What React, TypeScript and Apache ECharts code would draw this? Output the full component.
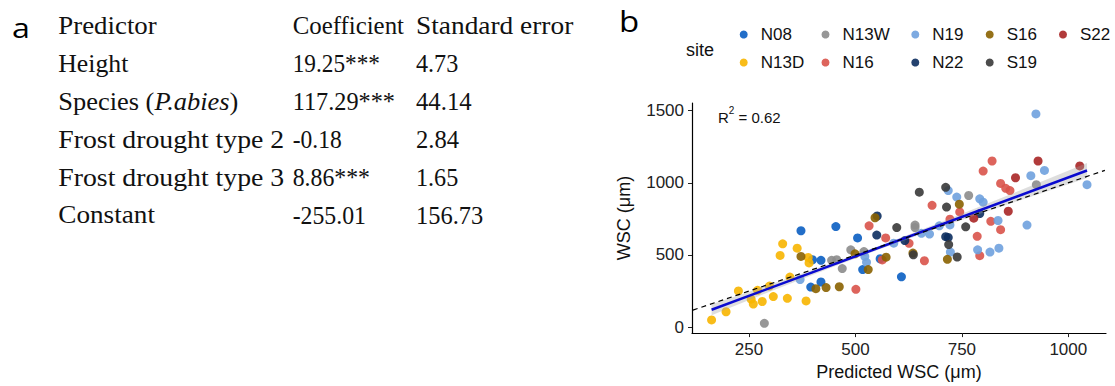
import React, { useEffect, useRef } from "react";
import * as echarts from "echarts";

// ---------- Table (panel a) ----------
const tableHeaders = ["Predictor", "Coefficient", "Standard error"];
const predictors = ["Height", "Species (P.abies)", "Frost drought type 2", "Frost drought type 3", "Constant"];
const coefficients = ["19.25***", "117.29***", "-0.18", "8.86***", "-255.01"];
const stdErrors = ["4.73", "44.14", "2.84", "1.65", "156.73"];

// ---------- Scatter (panel b) ----------
const sites = ["N08", "N13D", "N13W", "N16", "N19", "N22", "S16", "S19", "S22"];
const siteColors = ["#0a5ec2", "#f7b500", "#8c8c8c", "#d9534a", "#6fa1de", "#0c2e5f", "#8a6200", "#383838", "#a82626"];

const N08 = [[372, 668], [454, 697], [505, 618], [399, 467], [419, 463], [395, 278], [419, 313], [517, 399], [558, 474], [608, 349]];
const N13D = [[162, 50], [196, 107], [225, 251], [255, 194], [260, 160], [270, 255], [281, 178], [298, 285], [307, 212], [340, 200], [384, 182], [346, 347], [323, 497], [329, 577], [363, 547], [389, 483], [391, 445]];
const N13W = [[286, 27], [444, 463], [456, 467], [469, 406], [489, 536], [520, 524], [640, 707], [640, 690], [766, 912], [925, 987]];
const N16 = [[501, 262], [532, 702], [571, 618], [563, 466], [626, 581], [662, 460], [680, 844], [745, 798], [722, 748], [786, 629], [792, 495], [818, 733], [841, 675], [821, 1151], [800, 1081], [841, 996], [853, 962], [863, 946]];
const N19 = [[370, 330], [522, 490], [526, 449], [590, 582], [655, 650], [674, 645], [697, 702], [722, 708], [718, 946], [738, 901], [792, 889], [800, 866], [723, 520], [787, 536], [816, 520], [837, 547], [835, 739], [903, 707], [912, 1049], [944, 1086], [924, 1477], [1044, 987]];
const N22 = [[550, 638], [551, 770], [616, 600], [712, 627], [718, 622], [792, 787]];
const S16 = [[372, 490], [407, 267], [431, 274], [462, 280], [499, 508], [530, 399], [546, 758], [572, 485], [635, 513], [716, 470], [744, 852]];
const S19 = [[597, 690], [636, 501], [650, 935], [712, 969], [714, 832], [719, 572], [739, 486], [759, 695]];
const S22 = [[778, 755], [859, 803], [876, 1035], [929, 1151], [1027, 1117]];
const siteData = [N08, N13D, N13W, N16, N19, N22, S16, S19, S22];

// fitted regression line and its confidence band
const fitLine = [[162, 121], [1044, 1085]];
const bandX = [162, 300, 450, 560, 700, 850, 1044];
const bandLower = [83, 247, 421, 544, 692, 843, 1033];
const bandUpper = [159, 295, 449, 568, 726, 903, 1137];
// 1:1 reference line
const oneToOne = [[118, 118], [1086, 1086]];

const xTicks = [250, 500, 750, 1000];
const yTicks = [0, 500, 1000, 1500];
const legendColumns = [["N08", "N13D"], ["N13W", "N16"], ["N19", "N22"], ["S16", "S19"], ["S22"]];

const SANS = "'Liberation Sans', Arial, sans-serif";
const SERIF = "'Liberation Serif', 'Times New Roman', serif";

// layout: widths of table cells as they appear in the reference (px)
const headerWidths = [98.4, 111.3, 157.3];
const predictorWidths = [70, 180, 226, 226, 96.7];
const coefWidths = [87.3, 102.3, 49, 77.3, 73.3];
const seWidths = [42.3, 55.7, 43, 42.3, 67.3];

let measureCtx: CanvasRenderingContext2D | null = null;
function measure(text: string, size: number, italic = false) {
  if (!measureCtx) measureCtx = document.createElement("canvas").getContext("2d");
  if (!measureCtx) return text.length * size * 0.5;
  measureCtx.font = `${italic ? "italic " : ""}${size}px ${SERIF}`;
  return measureCtx.measureText(text).width;
}

function buildOption() {
  const rowY = [25.8, 63.5, 101.3, 139.3, 177.3, 215];
  const colX = [58.3, 292.7, 416];
  const tFont = 25;
  const graphic: any[] = [];
  const txt = (x: number, y: number, text: string, extra: any = {}, scaleX = 1) => ({
    type: "text",
    x,
    y,
    scaleX,
    silent: true,
    style: {
      text,
      fontSize: tFont,
      fontFamily: SERIF,
      fill: "#111",
      align: "left",
      verticalAlign: "middle",
      textAlign: "left",
      textVerticalAlign: "middle",
      ...extra,
    },
  });
  const fit = (text: string, target: number) => {
    const s = target / measure(text, tFont);
    return Math.max(0.9, Math.min(1.3, s));
  };
  tableHeaders.forEach((h, i) => graphic.push(txt(colX[i], rowY[0], h, {}, fit(h, headerWidths[i]))));
  predictors.forEach((p, i) => {
    if (p.indexOf("P.abies") >= 0) {
      const w = measure("Species (", tFont) + measure("P.abies", tFont, true) + measure(")", tFont);
      const s = Math.max(0.9, Math.min(1.3, predictorWidths[i] / w));
      graphic.push(
        txt(colX[0], rowY[i + 1], "{n|Species (}{i|P.abies}{n|)}", {
          rich: {
            n: { fontSize: tFont, fontFamily: SERIF, fill: "#111" },
            i: { fontSize: tFont, fontFamily: SERIF, fontStyle: "italic", fill: "#111" },
          },
        }, s)
      );
    } else {
      graphic.push(txt(colX[0], rowY[i + 1], p, {}, fit(p, predictorWidths[i])));
    }
    graphic.push(txt(colX[1], rowY[i + 1], coefficients[i], {}, fit(coefficients[i], coefWidths[i])));
    graphic.push(txt(colX[2], rowY[i + 1], stdErrors[i], {}, fit(stdErrors[i], seWidths[i])));
  });
  // panel letters
  graphic.push(txt(12, 27, "a", { fontFamily: "'Open Sans', 'DejaVu Sans', sans-serif", fontSize: 28, fill: "#000" }, 1.15));
  graphic.push(txt(619, 20, "b", { fontFamily: "'Open Sans', 'DejaVu Sans', sans-serif", fontSize: 30, fill: "#000" }, 1.1));
  // legend title
  graphic.push(txt(686, 50, "site", { fontFamily: SANS, fontSize: 18, fill: "#111" }));
  // R^2 annotation
  graphic.push(
    txt(718, 115, "{r|R}{s|2}{r| = 0.62}", {
      fontFamily: SANS,
      fontSize: 15,
      rich: {
        r: { fontFamily: SANS, fontSize: 15, fill: "#111", lineHeight: 20, verticalAlign: "bottom" },
        s: { fontFamily: SANS, fontSize: 10, fill: "#111", lineHeight: 20, verticalAlign: "top" },
      },
    })
  );

  const dotCenters = [741.7, 823.5, 913.3, 987.7, 1061];
  const iw = 24;
  const legends = legendColumns.map((names, i) => ({
    orient: "vertical",
    left: dotCenters[i] - iw / 2 + 10,
    top: 26,
    itemWidth: iw,
    itemHeight: 8,
    itemGap: 11,
    icon: "circle",
    selectedMode: false,
    padding: 0,
    data: names,
    textStyle: { fontSize: 17, fontFamily: SANS, color: "#111", padding: 0 },
  }));

  const scatterSeries = sites.map((s, i) => ({
    name: s,
    type: "scatter",
    data: siteData[i],
    symbol: "circle",
    symbolSize: 9,
    itemStyle: { color: siteColors[i], opacity: 0.9 },
    z: 2,
  }));

  const axisCommon = {
    type: "value",
    splitLine: { show: false },
    axisLine: { show: true, onZero: false, lineStyle: { color: "#000", width: 1.2 } },
    axisTick: { show: true, inside: false, length: 4, lineStyle: { color: "#222", width: 1 } },
    nameLocation: "middle",
    nameTextStyle: { fontSize: 18, fontFamily: SANS, color: "#111" },
  };
  const fmt = (v: number) => String(v);

  return {
    animation: false,
    backgroundColor: "#fff",
    graphic,
    legend: legends,
    grid: { left: 692, right: 9, top: 103, bottom: 50, containLabel: false },
    xAxis: {
      ...axisCommon,
      min: 116,
      max: 1088.6,
      name: "Predicted WSC (μm)",
      nameGap: 28,
      axisTick: { ...axisCommon.axisTick, customValues: xTicks },
      axisLabel: { customValues: xTicks, formatter: fmt, fontSize: 17, fontFamily: SANS, color: "#222", margin: 8 },
    },
    yAxis: {
      ...axisCommon,
      min: -41,
      max: 1552.7,
      name: "WSC (μm)",
      nameGap: 59,
      axisTick: { ...axisCommon.axisTick, customValues: yTicks },
      axisLabel: { customValues: yTicks, formatter: fmt, fontSize: 17, fontFamily: SANS, color: "#222", margin: 8 },
    },
    series: [
      ...scatterSeries,
      {
        type: "custom",
        name: "band",
        data: [0],
        z: 3,
        silent: true,
        renderItem: (_p: any, api: any) => {
          const pts: number[][] = [];
          bandX.forEach((x, k) => pts.push(api.coord([x, bandUpper[k]])));
          for (let k = bandX.length - 1; k >= 0; k--) pts.push(api.coord([bandX[k], bandLower[k]]));
          return { type: "polygon", shape: { points: pts }, style: { fill: "rgba(160,160,160,0.35)" } };
        },
      },
      {
        type: "line",
        name: "fit",
        data: fitLine,
        symbol: "none",
        z: 4,
        silent: true,
        lineStyle: { color: "#0a0ad0", width: 2.5 },
      },
      {
        type: "line",
        name: "1:1",
        data: oneToOne,
        symbol: "none",
        z: 5,
        silent: true,
        lineStyle: { color: "#000", width: 1.2, type: [5, 4] },
      },
    ],
  };
}

export default function App() {
  const ref = useRef<HTMLDivElement>(null);
  useEffect(() => {
    if (!ref.current) return;
    const chart = echarts.init(ref.current, null, { renderer: "svg" });
    chart.setOption(buildOption() as any);
    return () => chart.dispose();
  }, []);
  return (
    <div
      ref={ref}
      style={{ position: "absolute", left: 0, top: 0, width: 1115, height: 386, background: "#fff" }}
    />
  );
}
